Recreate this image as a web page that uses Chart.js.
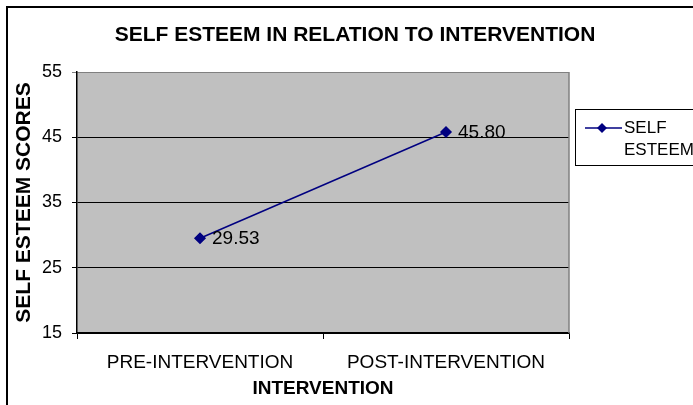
<!DOCTYPE html>
<html>
<head>
<meta charset="utf-8">
<script src="https://cdn.jsdelivr.net/npm/chart.js@4.4.0/dist/chart.umd.min.js"></script>
<style>
  html, body { margin: 0; padding: 0; background: #fff; }
  #wrap { width: 693px; height: 405px; }
</style>
</head>
<body>
<div id="wrap"><canvas id="myChart"></canvas></div>
<script>
const categories = ['PRE-INTERVENTION', 'POST-INTERVENTION'];
const seriesLabel = 'SELF ESTEEM';
const seriesValues = [29.53, 45.80];
const yTicks = [15, 25, 35, 45, 55];

const chartTitle = 'SELF ESTEEM IN RELATION TO INTERVENTION';
const xTitle = 'INTERVENTION';
const yTitle = 'SELF ESTEEM SCORES';

const FONT = "'Liberation Sans', Arial, sans-serif";
const NAVY = '#000080';

const decor = {
    id: 'decor',
    beforeDraw(chart) {
        const {ctx, chartArea: a} = chart;
        ctx.save();
        ctx.fillStyle = '#fff';
        ctx.fillRect(0, 0, chart.width, chart.height);
        // outer frame (right and bottom run off the picture)
        ctx.strokeStyle = '#000';
        ctx.lineWidth = 2;
        ctx.strokeRect(7, 7, 720, 440);
        // plot area
        ctx.fillStyle = '#C0C0C0';
        ctx.fillRect(a.left, a.top, a.right - a.left, a.bottom - a.top);
        ctx.restore();
    },
    beforeDatasetsDraw(chart) {
        const {ctx, chartArea: a} = chart;
        ctx.save();
        ctx.strokeStyle = '#808080';
        ctx.lineWidth = 1.5;
        ctx.beginPath();
        ctx.moveTo(a.right, a.top);
        ctx.lineTo(a.right, a.bottom);
        ctx.stroke();
        ctx.restore();
    },
    afterDatasetsDraw(chart) {
        const {ctx} = chart;
        const meta = chart.getDatasetMeta(0);
        ctx.save();
        ctx.fillStyle = '#000';
        ctx.font = '19px ' + FONT;
        ctx.textAlign = 'left';
        ctx.textBaseline = 'middle';
        meta.data.forEach((pt, i) => {
            ctx.fillText(seriesValues[i].toFixed(2), pt.x + 12, pt.y + 1);
        });
        ctx.restore();
    },
    afterDraw(chart) {
        const {ctx} = chart;
        ctx.save();
        // title
        ctx.fillStyle = '#000';
        ctx.font = 'bold 21px ' + FONT;
        ctx.textAlign = 'center';
        ctx.textBaseline = 'middle';
        ctx.fillText(chartTitle, 355, 35);

        // legend
        ctx.strokeStyle = '#000';
        ctx.lineWidth = 1;
        ctx.strokeRect(575.5, 109.5, 200, 56);
        ctx.strokeStyle = NAVY;
        ctx.lineWidth = 1.5;
        ctx.beginPath();
        ctx.moveTo(585, 128);
        ctx.lineTo(622, 128);
        ctx.stroke();
        ctx.fillStyle = NAVY;
        ctx.beginPath();
        ctx.moveTo(602, 123);
        ctx.lineTo(607, 128);
        ctx.lineTo(602, 133);
        ctx.lineTo(597, 128);
        ctx.closePath();
        ctx.fill();
        ctx.fillStyle = '#000';
        ctx.font = '17px ' + FONT;
        ctx.textAlign = 'left';
        const words = seriesLabel.split(' ');
        words.forEach((w, i) => ctx.fillText(w, 624, 128 + i * 22));
        ctx.restore();
    }
};

new Chart(document.getElementById('myChart'), {
    type: 'line',
    data: {
        labels: categories,
        datasets: [{
            label: seriesLabel,
            data: seriesValues,
            borderColor: NAVY,
            backgroundColor: NAVY,
            borderWidth: 1.5,
            pointStyle: 'rectRot',
            pointRadius: 5,
            pointHoverRadius: 5,
            tension: 0
        }]
    },
    options: {
        responsive: true,
        maintainAspectRatio: false,
        animation: false,
        layout: {padding: {left: 7, top: 72, right: 124, bottom: 0}},
        plugins: {
            legend: {display: false},
            title: {display: false},
            tooltip: {enabled: false}
        },
        scales: {
            x: {
                offset: true,
                afterFit(s) { s.height = 72; },
                grid: {
                    offset: true,
                    drawOnChartArea: false,
                    drawTicks: true,
                    tickLength: 6,
                    color: '#000'
                },
                border: {color: '#000', width: 1.5},
                ticks: {
                    color: '#000',
                    font: {family: FONT, size: 19},
                    padding: 12,
                    maxRotation: 0
                },
                title: {
                    display: true,
                    text: xTitle,
                    color: '#000',
                    font: {family: FONT, size: 19, weight: 'bold'},
                    padding: {top: 0, bottom: 5}
                }
            },
            y: {
                min: yTicks[0],
                max: yTicks[yTicks.length - 1],
                afterFit(s) { s.width = 70; },
                afterBuildTicks(s) { s.ticks = yTicks.map(v => ({value: v})); },
                grid: {
                    color: ctx => ctx.tick && ctx.tick.value === 55 ? '#808080' : '#000',
                    lineWidth: 1,
                    drawTicks: true,
                    tickLength: 5
                },
                border: {color: '#000', width: 1.5},
                ticks: {
                    color: '#000',
                    font: {family: FONT, size: 18},
                    padding: 10
                },
                title: {
                    display: true,
                    text: yTitle,
                    color: '#000',
                    font: {family: FONT, size: 21, weight: 'bold'},
                    padding: {top: 5, bottom: 0}
                }
            }
        }
    },
    plugins: [decor]
});
</script>
</body>
</html>
